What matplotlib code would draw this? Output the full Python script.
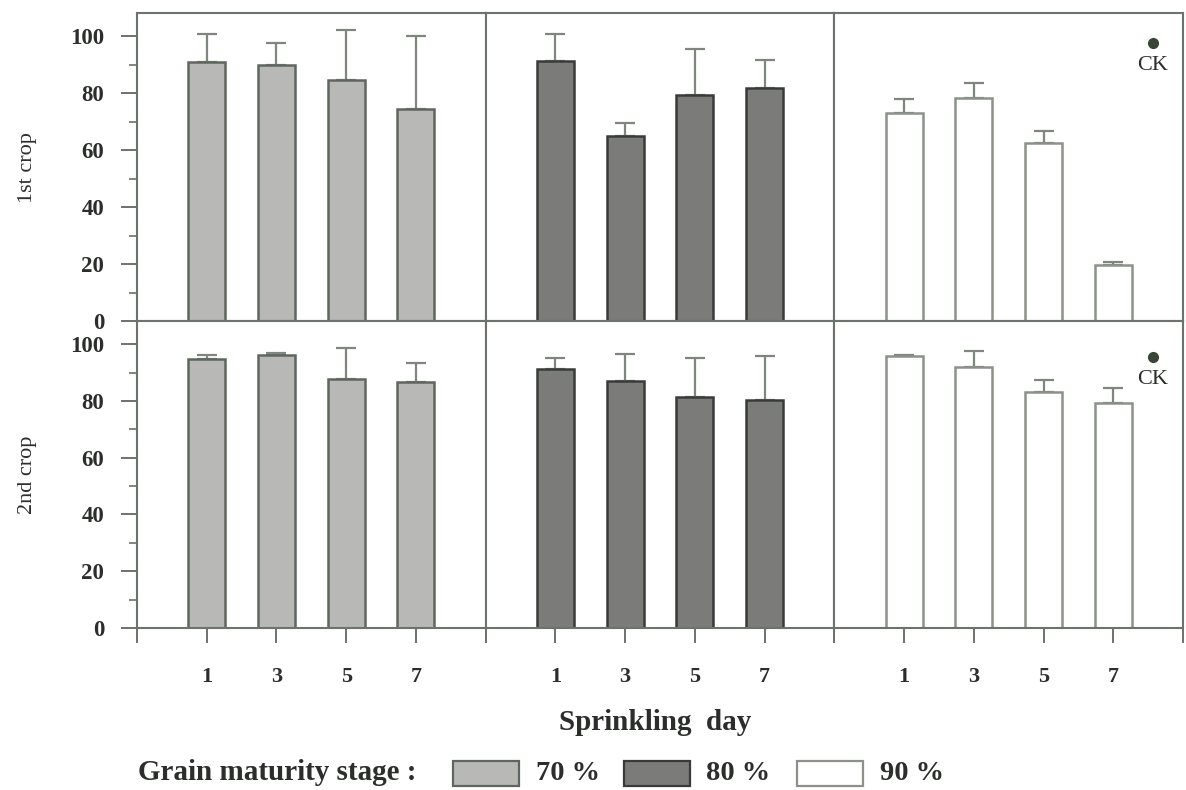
import matplotlib
matplotlib.use("Agg")
import matplotlib.pyplot as plt
from matplotlib.patches import Rectangle

# germination (%) by sprinkling day, per grain maturity stage
days = ["1", "3", "5", "7"]
stages = ["70 %", "80 %", "90 %"]
crops = ["1st crop", "2nd crop"]

crop1_mean = [
    [90.9, 90.0, 84.5, 74.4],   # 70 %
    [91.2, 65.0, 79.5, 81.8],   # 80 %
    [73.1, 78.4, 62.6, 19.8],   # 90 %
]
crop1_err = [
    [10.0, 7.6, 17.8, 25.5],
    [9.7, 4.7, 16.0, 10.0],
    [5.0, 5.3, 4.1, 1.2],
]
crop2_mean = [
    [94.7, 96.1, 87.9, 86.7],
    [91.1, 87.0, 81.4, 80.2],
    [95.9, 91.8, 83.2, 79.2],
]
crop2_err = [
    [1.4, 0.7, 10.6, 6.8],
    [4.1, 9.5, 13.9, 15.6],
    [0.3, 5.8, 4.1, 5.5],
]
ck_value = [97.5, 95.4]

faces = ["#b8b8b6", "#7b7c7a", "#ffffff"]
edges = ["#5e665e", "#383c38", "#8c918a"]
spine_c = "#6c726c"
text_c = "#2b2e2b"

plt.rcParams["font.family"] = ["Liberation Serif", "DejaVu Serif"]

W, H = 1186, 790
fig = plt.figure(figsize=(W / 100, H / 100), dpi=100)

left, right = 137 / W, 1183 / W
tops = [1 - 13.3 / H, 1 - 321.5 / H]
bots = [1 - 321.5 / H, 1 - 628 / H]
pw = (right - left) / 3

x = [1, 2, 3, 4]
for r, (means, errs) in enumerate([(crop1_mean, crop1_err), (crop2_mean, crop2_err)]):
    for c in range(3):
        ax = fig.add_axes([left + c * pw, bots[r], pw, tops[r] - bots[r]])
        ax.bar(x, means[c], width=0.53, color=faces[c], edgecolor=edges[c], linewidth=1.8, zorder=2)
        ax.errorbar(x, means[c], yerr=[[0] * 4, errs[c]], fmt="none", ecolor="#7f867e",
                    elinewidth=1.6, capsize=7, capthick=1.6, zorder=1)
        ax.set_xlim(0, 5)
        ax.set_ylim(0, 108)
        for s in ax.spines.values():
            s.set_color(spine_c)
            s.set_linewidth(1.5)
        if c == 0:
            ax.set_yticks([0, 20, 40, 60, 80, 100])
            ax.set_yticks(range(10, 100, 20), minor=True)
            ax.tick_params(axis="y", which="major", length=11.5, width=1.4, color=spine_c,
                           pad=12, labelsize=16.5, labelcolor=text_c)
            ax.tick_params(axis="y", which="minor", length=6, width=1.2, color=spine_c)
            for lb in ax.get_yticklabels():
                lb.set_fontweight("bold")
            ax.set_ylabel(crops[r], fontsize=16, color=text_c)
            ax.yaxis.set_label_coords(-100 / 348.7, 0.5)
        else:
            ax.set_yticks([])
        if r == 1:
            ax.set_xticks([0, 1, 2, 3, 4, 5])
            ax.set_xticklabels([""] + days + [""])
            ax.tick_params(axis="x", length=11, width=1.4, color=spine_c, pad=17,
                           labelsize=16, labelcolor=text_c)
            for lb in ax.get_xticklabels():
                lb.set_fontweight("bold")
        else:
            ax.set_xticks([])
        if c == 2:
            ax.plot([4.57], [ck_value[r]], "o", color="#394539", ms=7, zorder=3)
            ax.annotate("CK", (4.57, ck_value[r]), xytext=(0, -9), textcoords="offset points",
                        ha="center", va="top", fontsize=16, color=text_c)

fig.text(655 / W, 1 - 722 / H, "Sprinkling  day", ha="center", va="center",
         fontsize=21, fontweight="bold", color=text_c)

# legend row
ly = 1 - 773 / H
fig.text(138 / W, ly, "Grain maturity stage :", ha="left", va="center",
         fontsize=21, fontweight="bold", color=text_c)
patch_x = [453, 624, 797]
label_x = [536, 706, 880]
for i in range(3):
    fig.add_artist(Rectangle((patch_x[i] / W, 1 - 786 / H), 66 / W, 25 / H,
                             transform=fig.transFigure, facecolor=faces[i],
                             edgecolor=edges[i], linewidth=1.6))
    fig.text(label_x[i] / W, ly, stages[i], ha="left", va="center",
             fontsize=20.5, fontweight="bold", color=text_c)

fig.savefig("out.png", dpi=100)
